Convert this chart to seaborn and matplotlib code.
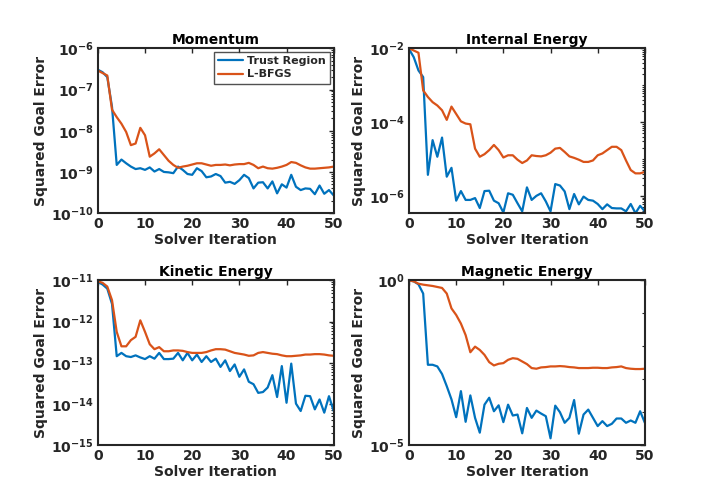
import numpy as np
import pandas as pd
import matplotlib
matplotlib.use("Agg")
import matplotlib.pyplot as plt
import matplotlib.ticker as mticker
import seaborn as sns

iterations = list(range(51))

# log10 of squared goal error
momentum_tr = [-6.52, -6.58, -6.70, -7.42, -8.83, -8.70, -8.79, -8.87, -8.93, -8.91,
               -8.95, -8.89, -8.99, -8.93, -9.00, -9.01, -9.03, -8.87, -8.95, -9.05,
               -9.07, -8.91, -8.98, -9.13, -9.11, -9.05, -9.10, -9.26, -9.24, -9.29,
               -9.20, -9.07, -9.15, -9.40, -9.26, -9.25, -9.40, -9.23, -9.52, -9.30,
               -9.38, -9.07, -9.36, -9.44, -9.40, -9.41, -9.54, -9.33, -9.53, -9.44, -9.57]
momentum_lb = [-6.54, -6.60, -6.66, -7.49, -7.67, -7.83, -8.03, -8.35, -8.31, -7.93,
               -8.11, -8.63, -8.55, -8.45, -8.59, -8.73, -8.83, -8.90, -8.87, -8.85,
               -8.82, -8.79, -8.79, -8.82, -8.85, -8.83, -8.83, -8.82, -8.84, -8.82,
               -8.81, -8.81, -8.78, -8.83, -8.91, -8.87, -8.91, -8.92, -8.90, -8.87,
               -8.83, -8.76, -8.78, -8.84, -8.89, -8.92, -8.92, -8.91, -8.90, -8.89, -8.87]
internal_tr = [-2.02, -2.24, -2.60, -2.78, -5.43, -4.49, -4.94, -4.42, -5.48, -5.24,
               -6.13, -5.87, -6.11, -6.11, -6.06, -6.33, -5.87, -5.86, -6.13, -6.20,
               -6.45, -5.93, -5.97, -6.20, -6.42, -5.77, -6.11, -6.00, -5.93, -6.15,
               -6.42, -5.68, -5.72, -5.88, -6.36, -5.95, -6.23, -6.02, -6.11, -6.13,
               -6.22, -6.36, -6.23, -6.33, -6.34, -6.34, -6.42, -6.22, -6.47, -6.27, -6.42]
internal_lb = [-2.00, -2.06, -2.12, -3.14, -3.32, -3.46, -3.55, -3.68, -3.94, -3.58,
               -3.78, -3.98, -4.04, -4.06, -4.72, -4.94, -4.87, -4.76, -4.62, -4.76,
               -4.96, -4.90, -4.90, -5.02, -5.11, -5.04, -4.90, -4.92, -4.93, -4.90,
               -4.83, -4.72, -4.70, -4.81, -4.93, -4.97, -5.02, -5.08, -5.08, -5.04,
               -4.90, -4.85, -4.76, -4.67, -4.67, -4.76, -5.04, -5.30, -5.39, -5.39, -5.35]
kinetic_tr = [-11.04, -11.10, -11.20, -11.57, -12.84, -12.76, -12.84, -12.86, -12.82, -12.87,
              -12.91, -12.84, -12.90, -12.76, -12.91, -12.91, -12.90, -12.76, -12.94, -12.76,
              -12.94, -12.80, -12.98, -12.84, -12.98, -12.90, -13.10, -12.94, -13.20, -13.04,
              -13.34, -13.16, -13.46, -13.52, -13.73, -13.71, -13.60, -13.30, -13.83, -13.08,
              -13.97, -13.02, -13.99, -14.17, -13.80, -13.81, -14.13, -13.89, -14.21, -13.81, -14.17]
kinetic_lb = [-11.02, -11.06, -11.15, -11.48, -12.25, -12.60, -12.60, -12.45, -12.37, -11.97,
              -12.25, -12.55, -12.67, -12.62, -12.72, -12.72, -12.70, -12.70, -12.71, -12.74,
              -12.76, -12.76, -12.76, -12.74, -12.70, -12.67, -12.67, -12.68, -12.72, -12.76,
              -12.78, -12.80, -12.83, -12.82, -12.76, -12.74, -12.76, -12.78, -12.79, -12.82,
              -12.84, -12.84, -12.83, -12.82, -12.80, -12.80, -12.79, -12.79, -12.80, -12.82, -12.83]
magnetic_tr = [0.00, -0.03, -0.12, -0.40, -2.56, -2.56, -2.61, -2.84, -3.21, -3.61,
               -4.15, -3.36, -4.29, -3.49, -4.17, -4.62, -3.77, -3.56, -3.97, -3.79,
               -4.30, -3.77, -4.10, -4.07, -4.64, -3.87, -4.17, -3.95, -4.04, -4.12,
               -4.79, -3.80, -4.00, -4.32, -4.17, -3.63, -4.65, -4.07, -3.92, -4.17,
               -4.42, -4.27, -4.42, -4.35, -4.19, -4.19, -4.32, -4.25, -4.32, -3.97, -4.32]
magnetic_lb = [0.00, -0.03, -0.10, -0.13, -0.15, -0.17, -0.20, -0.23, -0.40, -0.85,
               -1.05, -1.31, -1.66, -2.18, -2.01, -2.11, -2.26, -2.48, -2.58, -2.53,
               -2.51, -2.41, -2.36, -2.38, -2.46, -2.54, -2.66, -2.68, -2.64, -2.63,
               -2.61, -2.61, -2.60, -2.61, -2.63, -2.64, -2.66, -2.66, -2.66, -2.65,
               -2.65, -2.66, -2.66, -2.64, -2.63, -2.61, -2.66, -2.68, -2.69, -2.69, -2.68]

titles = ["Momentum", "Internal Energy", "Kinetic Energy", "Magnetic Energy"]
series_names = ["Trust Region", "L-BFGS"]
x_ticks = [0, 10, 20, 30, 40, 50]
y_limits = [(1e-10, 1e-6), (3.4e-7, 1e-2), (1e-15, 1e-11), (1e-5, 1e0)]
y_major = [[1e-10, 1e-9, 1e-8, 1e-7, 1e-6],
           [1e-6, 1e-4, 1e-2],
           [1e-15, 1e-14, 1e-13, 1e-12, 1e-11],
           [1e-5, 1e0]]
y_minor_decades = [[1e-4, 1e-3, 1e-2, 1e-1]]

sns.set_theme(style="white")
plt.rcParams['font.family'] = ['DejaVu Sans']
plt.rcParams['font.weight'] = 'bold'
plt.rcParams['mathtext.default'] = 'bf'

colors = {"Trust Region": "#0072BD", "L-BFGS": "#D95319"}
edge = "#262626"

fig = plt.figure(figsize=(7.04, 4.98), dpi=100)
positions = [[0.139, 0.572, 0.335, 0.331],
             [0.581, 0.572, 0.335, 0.331],
             [0.139, 0.106, 0.335, 0.331],
             [0.581, 0.106, 0.335, 0.331]]

data_sets = [(momentum_tr, momentum_lb), (internal_tr, internal_lb),
             (kinetic_tr, kinetic_lb), (magnetic_tr, magnetic_lb)]

def fmt(v, pos):
    e = int(round(np.log10(v)))
    return r'$\mathbf{10^{%d}}$' % e

for k in range(4):
    ax = fig.add_axes(positions[k])
    tr, lb = data_sets[k]
    df = pd.DataFrame({
        "iter": iterations * 2,
        "err": list(10.0 ** np.array(tr)) + list(10.0 ** np.array(lb)),
        "method": [series_names[0]] * 51 + [series_names[1]] * 51,
    })
    sns.lineplot(data=df, x="iter", y="err", hue="method", palette=colors,
                 linewidth=1.6, ax=ax, legend=(k == 0))
    ax.set_yscale("log")
    ax.set_xlim(0, 50)
    ax.set_ylim(*y_limits[k])
    ax.set_xticks(x_ticks)
    ax.set_xticklabels([str(t) for t in x_ticks], fontweight='bold')
    ax.yaxis.set_major_locator(mticker.FixedLocator(y_major[k]))
    ax.yaxis.set_major_formatter(mticker.FuncFormatter(fmt))
    if k == 3:
        ax.yaxis.set_minor_locator(mticker.FixedLocator(y_minor_decades[0]))
    else:
        ax.yaxis.set_minor_locator(mticker.LogLocator(base=10, subs=np.arange(1, 10)))
    ax.yaxis.set_minor_formatter(mticker.NullFormatter())
    ax.tick_params(axis='both', which='major', direction='in', length=3.5, width=1.0,
                   top=True, right=True, labelsize=10, colors=edge, pad=3)
    ax.tick_params(axis='both', which='minor', direction='in', length=2, width=0.8,
                   top=True, right=True, colors=edge)
    for lab in ax.get_xticklabels():
        lab.set_fontweight('bold')
    for sp in ax.spines.values():
        sp.set_visible(True)
        sp.set_color(edge)
        sp.set_linewidth(1.5)
    ax.set_title(titles[k], fontsize=10, fontweight='bold', color='black', pad=3)
    ax.set_xlabel("Solver Iteration", fontsize=10, fontweight='bold', color=edge, labelpad=1)
    ax.set_ylabel("Squared Goal Error", fontsize=10, fontweight='bold', color=edge, labelpad=2)
    if k == 0:
        leg = ax.legend(loc='upper right', frameon=True, fancybox=False,
                        prop={'weight': 'bold', 'size': 8}, handlelength=2.2,
                        borderpad=0.4, labelspacing=0.3, handletextpad=0.4,
                        borderaxespad=0.3)
        leg.get_frame().set_edgecolor(edge)
        leg.get_frame().set_linewidth(1.0)
        leg.set_title(None)

fig.savefig("out.png", dpi=100, facecolor="white")
